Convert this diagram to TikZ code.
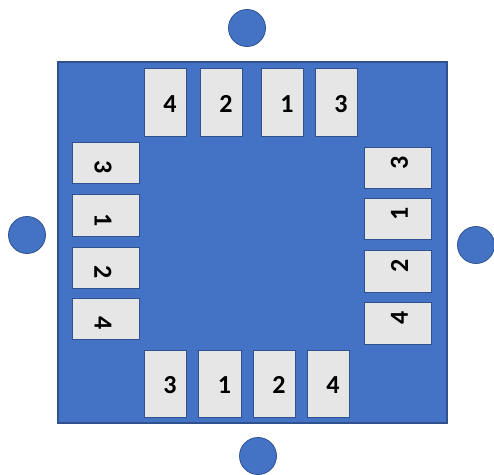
\documentclass[tikz,border=0pt]{standalone}
\usepackage{fontspec}
\setmainfont{Carlito}[BoldFont={Carlito Bold}]
\definecolor{ofblue}{HTML}{4472C4}
\definecolor{ofdark}{HTML}{2F528F}
\definecolor{ofgray}{HTML}{E7E6E6}
\begin{document}
\begin{tikzpicture}[x=1pt,y=-1pt,
  board/.style={draw=ofdark,line width=1.2pt,fill=ofblue},
  pin/.style={draw=ofdark,line width=0.8pt,fill=ofgray},
  dot/.style={circle,draw=ofdark,line width=0.8pt,fill=ofblue,minimum size=37pt,inner sep=0pt},
  num/.style={inner sep=0pt,font=\fontsize{26}{30}\selectfont\bfseries}]
\useasboundingbox (0,0) rectangle (494,474);
\fill[white] (0,0) rectangle (494,474);
\draw[board] (58,62) rectangle (447,423);
% circles
\node[dot] (ct) at (247,28) {};
\node[dot] (cl) at (27,235) {};
\node[dot] (cr) at (476,245) {};
\node[dot] (cb) at (258,456) {};
% top pins
\foreach \a/\b/\t [count=\i] in {144/186/4,200/242/2,261/303/1,315/357/3}{
  \draw[pin] (\a,68) rectangle (\b,136);
  \node[num] (t\i) at ({(\a+\b)/2+5},104) {\t};
}
% bottom pins
\foreach \a/\b/\t [count=\i] in {144/186/3,198/241/1,253/295/2,307/349/4}{
  \draw[pin] (\a,350) rectangle (\b,417);
  \node[num] (b\i) at ({(\a+\b)/2+5},385) {\t};
}
% left pins
\foreach \a/\b/\t [count=\i] in {142/183/3,194/236/1,247/288/2,298/339/4}{
  \draw[pin] (72,\a) rectangle (139,\b);
  \node[num,rotate=-90] (l\i) at (103,{(\a+\b)/2+5}) {\t};
}
% right pins
\foreach \a/\b/\t [count=\i] in {147/188/3,198/239/1,250/292/2,302/344/4}{
  \draw[pin] (364,\a) rectangle (431,\b);
  \node[num,rotate=90] (r\i) at (399.5,{(\a+\b)/2-5}) {\t};
}
\end{tikzpicture}
\end{document}
